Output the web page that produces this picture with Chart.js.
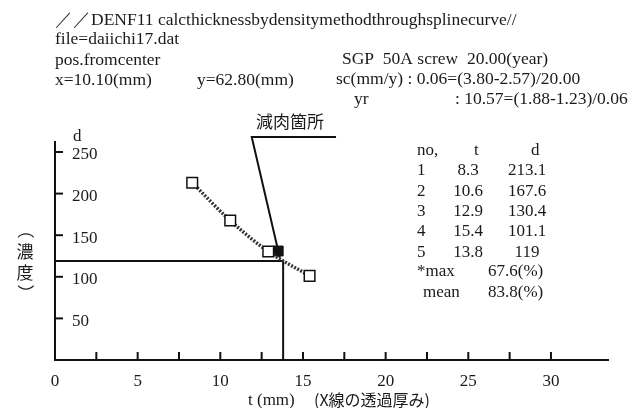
<!DOCTYPE html>
<html>
<head>
<meta charset="utf-8">
<script src="https://cdn.jsdelivr.net/npm/chart.js@4"></script>
<style>
  html, body { margin: 0; padding: 0; background: #fff; }
</style>
</head>
<body>
<canvas id="myChart" width="638" height="408"></canvas>
<script>
// measured points (t, d) used for the spline
var tPoints = [8.3, 10.6, 12.9, 15.4];
var dPoints = [213.1, 167.6, 130.4, 101.1];
// result point (no.5)
var tResult = 13.8;
var dResult = 119;
// leader line for the label and its filled end mark
var leaderT = [17.0, 11.9, 13.6];
var leaderD = [268, 268, 123];
var markT = [13.5];
var markD = [131];
// table at right
var tableNo = ['1', '2', '3', '4', '5'];
var tableT = ['8.3', '10.6', '12.9', '15.4', '13.8'];
var tableD = ['213.1', '167.6', '130.4', '101.1', '119'];
var maxLabel = '67.6(%)';
var meanLabel = '83.8(%)';
// axis ticks
var xTickValues = [0, 2.5, 5, 7.5, 10, 12.5, 15, 17.5, 20, 22.5, 25, 27.5, 30];
var xLabelValues = [0, 5, 10, 15, 20, 25, 30];
var yTickValues = [0, 50, 100, 150, 200, 250];
var yLabelValues = [50, 100, 150, 200, 250];

function pairs(xs, ys) {
  return xs.map(function (x, i) { return { x: x, y: ys[i] }; });
}

var serif = '"Liberation Serif", "DejaVu Serif", serif';
var cjk = '"Noto Sans CJK JP", sans-serif';

var textPlugin = {
  id: 'texts',
  afterDraw: function (chart) {
    var ctx = chart.ctx;
    var xs = chart.scales.x, ys = chart.scales.y;
    ctx.save();
    // inward tick marks
    ctx.strokeStyle = '#111';
    ctx.lineWidth = 2;
    xs.ticks.forEach(function (t) {
      if (t.value <= 0) return;
      var px = xs.getPixelForValue(t.value);
      ctx.beginPath(); ctx.moveTo(px, xs.top); ctx.lineTo(px, xs.top - 8); ctx.stroke();
    });
    ys.ticks.forEach(function (t) {
      if (t.value <= 0) return;
      var py = ys.getPixelForValue(t.value);
      ctx.beginPath(); ctx.moveTo(ys.right, py); ctx.lineTo(ys.right + 8, py); ctx.stroke();
    });

    ctx.fillStyle = '#1a1a1a';
    ctx.textBaseline = 'middle';
    ctx.textAlign = 'left';
    ctx.font = '17.5px ' + serif;
    ctx.fillText('／／DENF11 calcthicknessbydensitymethodthroughsplinecurve//', 55, 20);
    ctx.fillText('file=daiichi17.dat', 55, 39);
    ctx.fillText('pos.fromcenter', 55, 60);
    ctx.fillText('SGP  50A screw  20.00(year)', 342, 59);
    ctx.fillText('x=10.10(mm)', 55, 80);
    ctx.fillText('y=62.80(mm)', 197, 80);
    ctx.fillText('sc(mm/y) : 0.06=(3.80-2.57)/20.00', 336, 79);
    ctx.fillText('yr', 354, 99);
    ctx.fillText(': 10.57=(1.88-1.23)/0.06', 455, 99);

    // table
    ctx.font = '17px ' + serif;
    ctx.fillText('no,', 417, 151);
    ctx.fillText('t', 474, 151);
    ctx.fillText('d', 531, 151);
    for (var i = 0; i < tableNo.length; i++) {
      var y = 171 + i * 20.3;
      ctx.textAlign = 'left';
      ctx.fillText(tableNo[i], 417, y);
      ctx.textAlign = 'center';
      ctx.fillText(tableT[i], 468, y);
      ctx.fillText(tableD[i], 527, y);
    }
    ctx.textAlign = 'left';
    ctx.fillText('*max', 417, 272);
    ctx.fillText(maxLabel, 488, 272);
    ctx.fillText('mean', 423, 293);
    ctx.fillText(meanLabel, 488, 293);

    // y label
    ctx.fillText('d', 73, 137);

    // label of the thinning spot
    ctx.font = '17px ' + cjk;
    ctx.fillText('減肉箇所', 256, 122);

    // vertical y-axis title
    ctx.textAlign = 'center';
    ctx.font = '17px ' + cjk;
    ctx.fillText('濃', 25, 252);
    ctx.fillText('度', 25, 273);
    ctx.save(); ctx.translate(25, 230); ctx.rotate(Math.PI / 2); ctx.fillText('（', 0, 0); ctx.restore();
    ctx.save(); ctx.translate(25, 293); ctx.rotate(Math.PI / 2); ctx.fillText('）', 0, 0); ctx.restore();

    // x-axis title
    ctx.textAlign = 'left';
    ctx.font = '17px ' + serif;
    ctx.fillText('t (mm)', 248, 401);
    ctx.font = '16px ' + cjk;
    ctx.fillText('(X線の透過厚み)', 314, 400, 128);
    ctx.restore();
  }
};

var ctx = document.getElementById('myChart').getContext('2d');

var myChart = new Chart(ctx, {
  type: 'scatter',
  data: {
    datasets: [
      {
        label: 'spline',
        data: pairs(tPoints, dPoints),
        showLine: true,
        borderColor: '#333',
        borderWidth: 3.5,
        borderDash: [2, 1.5],
        cubicInterpolationMode: 'monotone',
        pointStyle: 'rect',
        pointRadius: 7.5,
        pointBackgroundColor: '#fff',
        pointBorderColor: '#111',
        pointBorderWidth: 1.5
      },
      {
        label: 'mark',
        data: pairs(markT, markD),
        pointStyle: 'rect',
        pointRadius: 7,
        pointBackgroundColor: '#111',
        pointBorderColor: '#111'
      },
      {
        label: 'result',
        data: pairs([0, tResult, tResult], [dResult, dResult, 0]),
        showLine: true,
        borderColor: '#111',
        borderWidth: 2,
        pointRadius: 0
      },
      {
        label: 'leader',
        data: pairs(leaderT, leaderD),
        showLine: true,
        clip: false,
        borderColor: '#111',
        borderWidth: 2,
        pointRadius: 0
      }
    ]
  },
  options: {
    responsive: false,
    animation: false,
    devicePixelRatio: 1,
    layout: { padding: { top: 142, right: 30, left: 0, bottom: 0 } },
    plugins: { legend: { display: false }, tooltip: { enabled: false } },
    scales: {
      x: {
        type: 'linear',
        min: 0,
        max: 33.45,
        afterFit: function (s) { s.height = 48; },
        afterBuildTicks: function (s) {
          s.ticks = xTickValues.map(function (v) { return { value: v }; });
        },
        border: { display: true, color: '#111', width: 2 },
        grid: { display: false, drawTicks: false },
        ticks: {
          autoSkip: false,
          maxRotation: 0,
          padding: 11,
          color: '#1a1a1a',
          font: { family: serif, size: 17 },
          callback: function (v) { return xLabelValues.indexOf(v) >= 0 ? v : ''; }
        }
      },
      y: {
        type: 'linear',
        min: 0,
        max: 262,
        afterFit: function (s) { s.width = 55; },
        afterBuildTicks: function (s) {
          s.ticks = yTickValues.map(function (v) { return { value: v }; });
        },
        border: { display: true, color: '#111', width: 2 },
        grid: { display: false, drawTicks: false },
        ticks: {
          autoSkip: false,
          mirror: true,
          padding: 17,
          labelOffset: 3,
          color: '#1a1a1a',
          font: { family: serif, size: 17 },
          callback: function (v) { return yLabelValues.indexOf(v) >= 0 ? v : ''; }
        }
      }
    }
  },
  plugins: [textPlugin]
});
</script>
</body>
</html>
